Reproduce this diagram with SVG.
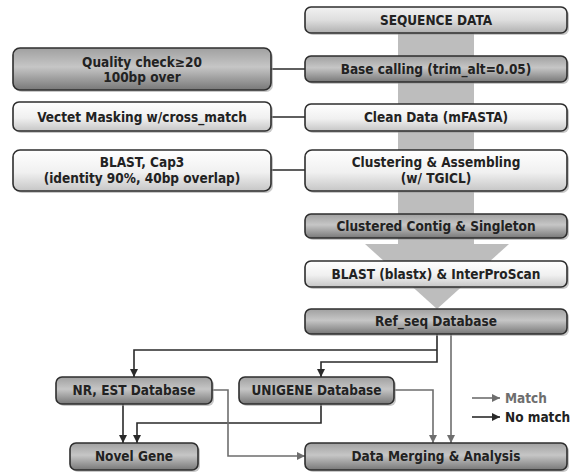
<svg xmlns="http://www.w3.org/2000/svg" width="571" height="472" viewBox="0 0 571 472">
<defs>
<linearGradient id="gDark" x1="0" y1="0" x2="0" y2="1">
<stop offset="0" stop-color="#a0a0a0"/><stop offset="0.45" stop-color="#c6c6c6"/><stop offset="1" stop-color="#787878"/>
</linearGradient>
<linearGradient id="gLight" x1="0" y1="0" x2="0" y2="1">
<stop offset="0" stop-color="#ffffff"/><stop offset="0.55" stop-color="#f0f0f0"/><stop offset="1" stop-color="#c6c6c6"/>
</linearGradient>
<linearGradient id="gMid" x1="0" y1="0" x2="0" y2="1">
<stop offset="0" stop-color="#f2f2f2"/><stop offset="0.5" stop-color="#dedede"/><stop offset="1" stop-color="#b0b0b0"/>
</linearGradient>
<marker id="aDark" markerUnits="userSpaceOnUse" markerWidth="9" markerHeight="9" refX="8" refY="4.5" orient="auto">
<path d="M0,0.5 L8,4.5 L0,8.5 Z" fill="#2a2a2a"/>
</marker>
<marker id="aGray" markerUnits="userSpaceOnUse" markerWidth="9" markerHeight="9" refX="8" refY="4.5" orient="auto">
<path d="M0,0.5 L8,4.5 L0,8.5 Z" fill="#6e6e6e"/>
</marker>
<style>
.box{stroke:#2e2e2e;stroke-width:1.6}
.shadow{fill:#9a9a9a;opacity:0.55}
.dark{fill:url(#gDark)}
.light{fill:url(#gLight)}
.mid{fill:url(#gMid)}
text{font-family:"DejaVu Sans Condensed","DejaVu Sans",sans-serif;font-weight:bold;font-size:13.5px;fill:#222;text-anchor:middle}
.c-dark{fill:none;stroke:#2a2a2a;stroke-width:1.6}
.c-gray{fill:none;stroke:#6e6e6e;stroke-width:1.6}
.legend{text-anchor:start}
</style>
</defs>
<rect width="571" height="472" fill="#ffffff"/>
<g id="flow-band">
<rect x="398" y="33" width="76" height="212" fill="#bdbdbd"/>
<polygon points="365,244 509,244 437,309" fill="#bdbdbd"/>
</g>
<g id="connectors">
<path class="c-dark" d="M271,69 H305"/>
<path class="c-dark" d="M271,117 H305"/>
<path class="c-dark" d="M271,170 H305"/>
<path class="c-dark" d="M437,334 V362 H321 V377" marker-end="url(#aDark)"/>
<path class="c-dark" d="M437,350 H134 V377" marker-end="url(#aDark)"/>
<path class="c-dark" d="M123,404 V443" marker-end="url(#aDark)"/>
<path class="c-dark" d="M321,404 V423 H137 V443" marker-end="url(#aDark)"/>
<path class="c-gray" d="M451,334 V443" marker-end="url(#aGray)"/>
<path class="c-gray" d="M394,390 H433 V443" marker-end="url(#aGray)"/>
<path class="c-gray" d="M212,390 H228 V456 H305" marker-end="url(#aGray)"/>
</g>
<g id="seq"><rect class="shadow" x="307" y="9" width="262" height="26" rx="6"/><rect class="box mid" x="305" y="7" width="262" height="26" rx="6"/><text x="436" y="25">SEQUENCE DATA</text></g>
<g id="base"><rect class="shadow" x="307" y="58" width="262" height="26" rx="6"/><rect class="box dark" x="305" y="56" width="262" height="26" rx="6"/><text x="436" y="74">Base calling (trim_alt=0.05)</text></g>
<g id="quality"><rect class="shadow" x="15" y="50" width="258" height="42" rx="7"/><rect class="box dark" x="13" y="48" width="258" height="42" rx="7"/><text x="142" y="67">Quality check≥20</text><text x="142" y="82">100bp over</text></g>
<g id="vectet"><rect class="shadow" x="15" y="104" width="258" height="29" rx="6"/><rect class="box light" x="13" y="102" width="258" height="29" rx="6"/><text x="142" y="121.5">Vectet Masking w/cross_match</text></g>
<g id="clean"><rect class="shadow" x="307" y="106" width="262" height="27" rx="6"/><rect class="box light" x="305" y="104" width="262" height="27" rx="6"/><text x="436" y="122">Clean Data (mFASTA)</text></g>
<g id="blastcap"><rect class="shadow" x="15" y="152" width="258" height="41" rx="7"/><rect class="box light" x="13" y="150" width="258" height="41" rx="7"/><text x="142" y="167">BLAST, Cap3</text><text x="142" y="183">(identity 90%, 40bp overlap)</text></g>
<g id="cluster"><rect class="shadow" x="307" y="152" width="262" height="41" rx="7"/><rect class="box light" x="305" y="150" width="262" height="41" rx="7"/><text x="436" y="167">Clustering &amp; Assembling</text><text x="436" y="183">(w/ TGICL)</text></g>
<g id="contig"><rect class="shadow" x="307" y="216" width="262" height="24" rx="6"/><rect class="box dark" x="305" y="214" width="262" height="24" rx="6"/><text x="436" y="231">Clustered Contig &amp; Singleton</text></g>
<g id="blastx"><rect class="shadow" x="307" y="263" width="262" height="26" rx="6"/><rect class="box light" x="305" y="261" width="262" height="26" rx="6"/><text x="436" y="279">BLAST (blastx) &amp; InterProScan</text></g>
<g id="refseq"><rect class="shadow" x="307" y="311" width="262" height="25" rx="6"/><rect class="box dark" x="305" y="309" width="262" height="25" rx="6"/><text x="436" y="326">Ref_seq Database</text></g>
<g id="nrest"><rect class="shadow" x="58" y="379" width="156" height="27" rx="6"/><rect class="box dark" x="56" y="377" width="156" height="27" rx="6"/><text x="134" y="395">NR, EST Database</text></g>
<g id="unigene"><rect class="shadow" x="241" y="379" width="155" height="27" rx="6"/><rect class="box dark" x="239" y="377" width="155" height="27" rx="6"/><text x="316.5" y="395">UNIGENE Database</text></g>
<g id="novel"><rect class="shadow" x="72" y="445" width="128" height="27" rx="6"/><rect class="box dark" x="70" y="443" width="128" height="27" rx="6"/><text x="134" y="461">Novel Gene</text></g>
<g id="merge"><rect class="shadow" x="307" y="445" width="262" height="27" rx="6"/><rect class="box dark" x="305" y="443" width="262" height="27" rx="6"/><text x="436" y="461">Data Merging &amp; Analysis</text></g>
<g id="legend">
<path class="c-gray" d="M472,398 H500" marker-end="url(#aGray)"/>
<path class="c-dark" d="M472,417 H500" marker-end="url(#aDark)"/>
<text class="legend" x="505" y="403" style="fill:#6e6e6e">Match</text>
<text class="legend" x="505" y="422">No match</text>
</g>
</svg>
